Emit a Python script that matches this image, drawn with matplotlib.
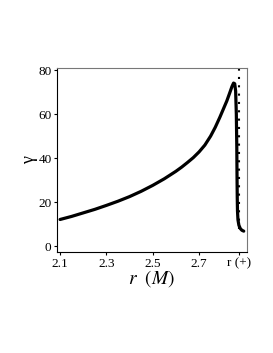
import matplotlib
matplotlib.use("Agg")
import matplotlib.pyplot as plt

plt.rcParams['font.family'] = ['Liberation Serif', 'DejaVu Serif']
plt.rcParams['mathtext.fontset'] = 'stix'

# curve
r = [2.10, 2.15, 2.20, 2.25, 2.30, 2.35, 2.40, 2.45, 2.50, 2.55, 2.60, 2.625,
     2.65, 2.675, 2.70, 2.725, 2.75, 2.77, 2.79, 2.805, 2.82, 2.832, 2.842,
     2.849, 2.854, 2.858, 2.861, 2.863, 2.864, 2.865, 2.866, 2.868, 2.872,
     2.878, 2.885, 2.893]
gamma = [12.1, 13.5, 15.1, 16.7, 18.5, 20.4, 22.5, 24.9, 27.6, 30.6, 34.0, 35.9,
         38.0, 40.2, 42.8, 45.9, 50.0, 54.0, 58.6, 62.3, 66.0, 69.5, 72.5,
         74.1, 73.8, 70.5, 60.0, 45.0, 32.0, 22.0, 16.0, 12.0, 9.5,
         8.0, 7.2, 6.8]

r_plus = 2.874
r_plus_span = [8, 82]

xticks = [2.1, 2.3, 2.5, 2.7, 2.872]
xtick_labels = ["2.1", "2.3", "2.5", "2.7", "r (+)"]
yticks = [0, 20, 40, 60, 80]

fig = plt.figure(figsize=(2.73, 3.53), dpi=100)
ax = fig.add_axes([0.209, 0.286, 0.694, 0.521])

ax.plot(r, gamma, color='black', lw=2.3, solid_capstyle='round',
        solid_joinstyle='round')
ax.plot([r_plus, r_plus], r_plus_span, color='black', lw=1.5,
        linestyle=(0, (1, 3.0)), clip_on=False)

ax.set_xlim(2.087, 2.905)
ax.set_ylim(-2.7, 80.9)
ax.set_xticks(xticks)
ax.set_xticklabels(xtick_labels)
ax.set_yticks(yticks)
ax.tick_params(direction='out', length=2.5, width=0.8, labelsize=9.5, pad=1.5)

for side in ['top', 'right']:
    ax.spines[side].set_color('#777777')
for side in ax.spines:
    ax.spines[side].set_linewidth(0.8)

ax.set_xlabel(r'$r\ \ (M)$', fontsize=14, labelpad=-1)
ax.set_ylabel('γ', fontsize=13, labelpad=0)

fig.savefig("out.png", dpi=100)
